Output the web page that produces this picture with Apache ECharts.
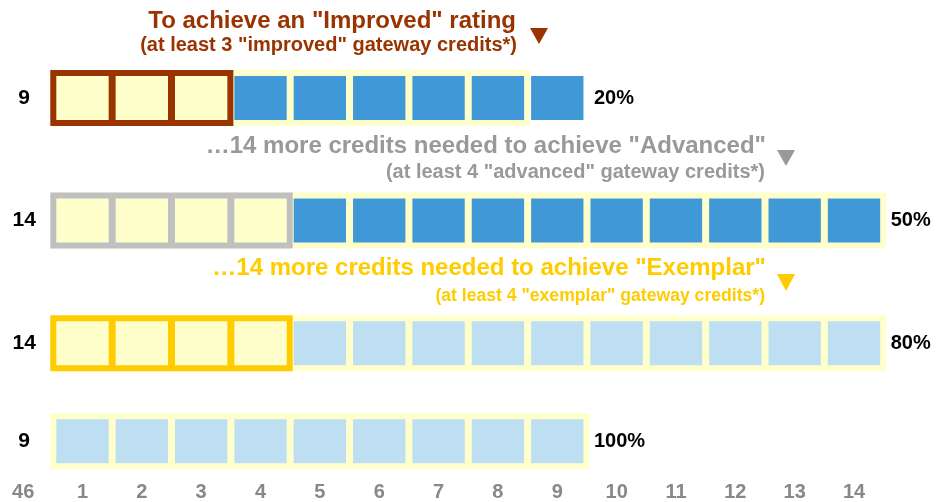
<!DOCTYPE html>
<html><head><meta charset="utf-8">
<script src="https://cdn.jsdelivr.net/npm/echarts@6/dist/echarts.min.js"></script>
<style>html,body{margin:0;padding:0;background:#fff}#c{width:945px;height:502px}</style>
</head><body><div id="c"></div>
<script>
// ---------- data ----------
const columnLabels = ['1','2','3','4','5','6','7','8','9','10','11','12','13','14'];
const rowTotals = [9, 14, 14, 9];          // credits in each band
const gatewayCounts = [3, 4, 4, 0];        // gateway credits required per band
const rowShade = ['dark', 'dark', 'light', 'light'];
const bandSpan = [8, 14, 14, 9];           // columns covered by the pale background strip
const ratingNames = ['Improved', 'Advanced', 'Exemplar'];

// ---------- layout / style ----------
const rowSlots = [0, 5, 10, 14];
const AXIS_LABEL_SLOT = 16.1;
const FONT = '"Liberation Sans", Arial, Helvetica, sans-serif';
const CELL_H = 44, CELL_GAP = 7, PAD = 6;
const CELL_COLORS = ['#ffffcc', '#4098d7', '#bedef2'];
const FRAME_COLORS = ['#993300', '#c0c0c0', '#ffcc00'];
const BAND_COLOR = '#ffffcc';

const total = rowTotals.reduce((a, b) => a + b, 0);

const cellData = [], bandData = [], frameData = [], labelData = [];
let cum = 0;
rowTotals.forEach((n, r) => {
  for (let j = 1; j <= n; j++) {
    const t = j <= gatewayCounts[r] ? 0 : (rowShade[r] === 'dark' ? 1 : 2);
    cellData.push([j - 1, rowSlots[r], t]);
  }
  bandData.push([0, bandSpan[r] - 1, rowSlots[r]]);
  if (gatewayCounts[r] > 0) frameData.push([0, gatewayCounts[r] - 1, rowSlots[r], r]);
  cum += n;
  labelData.push([0, rowSlots[r], String(n), 'count']);
  labelData.push([n - 1, rowSlots[r], Math.round(cum / total * 100) + '%', 'pct']);
});
labelData.push([0, AXIS_LABEL_SLOT, String(total), 'total']);

function cellW(api) { return api.size([1, 0])[0] - CELL_GAP; }

const chart = echarts.init(document.getElementById('c'), null, {renderer: 'canvas'});
chart.setOption({
  animation: false,
  backgroundColor: '#ffffff',
  grid: {left: 52.8, width: 830.9, top: -1.4, height: 479.7, containLabel: false},
  xAxis: {
    type: 'category', data: columnLabels, boundaryGap: true,
    axisLine: {show: false}, axisTick: {show: false}, splitLine: {show: false},
    axisLabel: {color: '#888888', fontWeight: 'bold', fontSize: 20, fontFamily: FONT, margin: 4, interval: 0}
  },
  yAxis: {type: 'value', inverse: true, min: -4, max: 15.5, show: false},
  series: [
    {
      type: 'custom', z: 1, data: bandData,
      renderItem: (p, api) => {
        const a = api.coord([api.value(0), api.value(2)]);
        const b = api.coord([api.value(1), api.value(2)]);
        const w = cellW(api);
        const x0 = a[0] - w / 2 - PAD, x1 = b[0] + w / 2 + PAD;
        return {type: 'rect', shape: {x: x0, y: a[1] - CELL_H / 2 - PAD, width: x1 - x0, height: CELL_H + 2 * PAD},
          style: {fill: BAND_COLOR}};
      }
    },
    {
      type: 'custom', z: 2, data: frameData,
      renderItem: (p, api) => {
        const a = api.coord([api.value(0), api.value(2)]);
        const b = api.coord([api.value(1), api.value(2)]);
        const w = cellW(api);
        const x0 = a[0] - w / 2 - PAD, x1 = b[0] + w / 2 + PAD;
        return {type: 'rect', shape: {x: x0, y: a[1] - CELL_H / 2 - PAD, width: x1 - x0, height: CELL_H + 2 * PAD},
          style: {fill: FRAME_COLORS[api.value(3)]}};
      }
    },
    {
      type: 'custom', z: 3, data: cellData,
      renderItem: (p, api) => {
        const c = api.coord([api.value(0), api.value(1)]);
        const w = cellW(api);
        return {type: 'rect', shape: {x: c[0] - w / 2, y: c[1] - CELL_H / 2, width: w, height: CELL_H},
          style: {fill: CELL_COLORS[api.value(2)]}};
      }
    },
    {
      type: 'custom', z: 4, data: labelData,
      renderItem: (p, api) => {
        const d = labelData[p.dataIndex];
        const c = api.coord([d[0], d[1]]);
        const bw = api.size([1, 0])[0];
        if (d[3] === 'count') {
          return {type: 'text', style: {x: c[0] - bw + 1, y: c[1], text: d[2], fill: '#000',
            font: 'bold 21px ' + FONT, align: 'center', verticalAlign: 'middle'}};
        }
        if (d[3] === 'total') {
          return {type: 'text', style: {x: c[0] - bw, y: c[1], text: d[2], fill: '#888888',
            font: 'bold 20px ' + FONT, align: 'center', verticalAlign: 'middle'}};
        }
        return {type: 'text', style: {x: c[0] + bw / 2 + 7, y: c[1], text: d[2], fill: '#000',
          font: 'bold 20px ' + FONT, align: 'left', verticalAlign: 'middle'}};
      }
    }
  ],
  graphic: [
    {type: 'text', style: {x: 516, y: 21, text: 'To achieve an "' + ratingNames[0] + '" rating', fill: '#993300',
      font: 'bold 24px ' + FONT, align: 'right', verticalAlign: 'middle'}},
    {type: 'text', style: {x: 517, y: 45, text: '(at least ' + gatewayCounts[0] + ' "' + ratingNames[0].toLowerCase() + '" gateway credits*)', fill: '#993300',
      font: 'bold 20px ' + FONT, align: 'right', verticalAlign: 'middle'}},
    {type: 'polygon', shape: {points: [[530, 28], [548, 28], [539, 44]]}, style: {fill: '#993300'}},

    {type: 'text', style: {x: 766, y: 146, text: '\u2026' + rowTotals[1] + ' more credits needed to achieve "' + ratingNames[1] + '"', fill: '#999999',
      font: 'bold 24px ' + FONT, align: 'right', verticalAlign: 'middle'}},
    {type: 'text', style: {x: 765, y: 172, text: '(at least ' + gatewayCounts[1] + ' "' + ratingNames[1].toLowerCase() + '" gateway credits*)', fill: '#999999',
      font: 'bold 20px ' + FONT, align: 'right', verticalAlign: 'middle'}},
    {type: 'polygon', shape: {points: [[777, 150], [795, 150], [786, 166]]}, style: {fill: '#999999'}},

    {type: 'text', style: {x: 766, y: 268, text: '\u2026' + rowTotals[2] + ' more credits needed to achieve "' + ratingNames[2] + '"', fill: '#ffcc00',
      font: 'bold 24px ' + FONT, align: 'right', verticalAlign: 'middle'}},
    {type: 'text', style: {x: 765, y: 296, text: '(at least ' + gatewayCounts[2] + ' "' + ratingNames[2].toLowerCase() + '" gateway credits*)', fill: '#ffcc00',
      font: 'bold 17.6px ' + FONT, align: 'right', verticalAlign: 'middle'}},
    {type: 'polygon', shape: {points: [[777, 274], [795, 274], [786, 291]]}, style: {fill: '#ffcc00'}}
  ]
});
</script></body></html>
